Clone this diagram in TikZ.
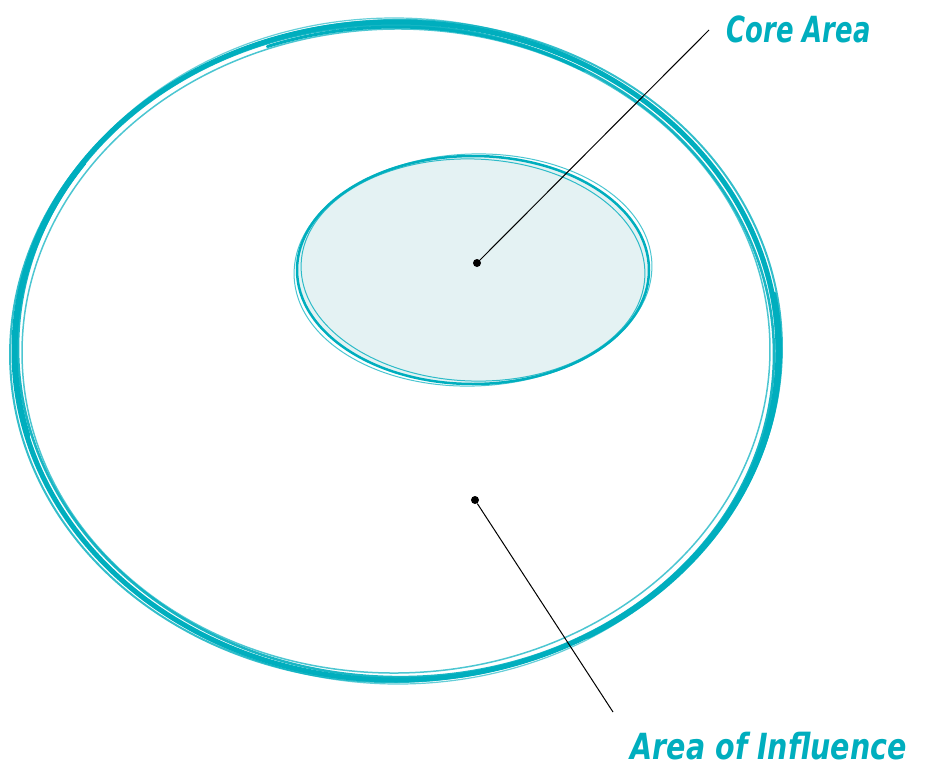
\documentclass[tikz,border=0pt]{standalone}
\usepackage{fontspec}
\setmainfont{DejaVu Sans}
\definecolor{teal}{RGB}{0,174,190}
\definecolor{corefill}{RGB}{228,242,243}

\begin{document}
\begin{tikzpicture}[
    x=1pt, y=-1pt,
    brush/.style={draw=teal, line cap=round},
    dot/.style={circle, fill=black, inner sep=0pt, minimum size=8pt},
    tag/.style={text=teal, font=\fontsize{36}{40}\selectfont\bfseries\itshape, xscale=0.72, anchor=west}
  ]
    \useasboundingbox (0,0) rectangle (926,779);

    % outer area, several rough brush strokes
    \foreach \rx/\ry/\rot/\w/\op in {382/329/0/5/1, 378/326/-2/2.5/0.9, 386/331/2/2/0.8,
                                     374/322/1/1.5/0.7, 380/333/-1/1.2/0.6}
      \draw[brush, line width=\w, opacity=\op, rotate around={\rot:(396,351)}]
        (396,351) ellipse[x radius=\rx, y radius=\ry];
    % heavier strokes on the right and bottom
    \draw[brush, line width=4] (396,351) ++(-10:384 and 330) arc[start angle=-10, end angle=60, x radius=384, y radius=330];
    \draw[brush, line width=3] (396,351) ++(165:380 and 327) arc[start angle=165, end angle=215, x radius=380, y radius=327];
    \draw[brush, line width=3] (396,351) ++(250:376 and 324) arc[start angle=250, end angle=300, x radius=376, y radius=324];

    % core area
    \draw[brush, line width=2.5, fill=corefill] (473,270) ellipse[x radius=176, y radius=114];
    \draw[brush, line width=1, opacity=0.8, rotate around={-2:(473,270)}] (473,270) ellipse[x radius=172, y radius=111];
    \draw[brush, line width=1, opacity=0.7, rotate around={2:(473,270)}] (473,270) ellipse[x radius=179, y radius=116];

    \node[dot] (coredot) at (477,263) {};
    \node[dot] (areadot) at (475,500) {};

    \node[tag] (corelabel) at (724,29) {Core Area};
    \node[tag, xscale=1.1] (arealabel) at (628,746) {Area of Influence};

    \coordinate (coreend) at (709,30);
    \coordinate (areaend) at (613,712);

    \draw[line width=1] (coredot) -- (coreend);
    \draw[line width=1] (areadot) -- (areaend);
  \end{tikzpicture}
\end{document}
